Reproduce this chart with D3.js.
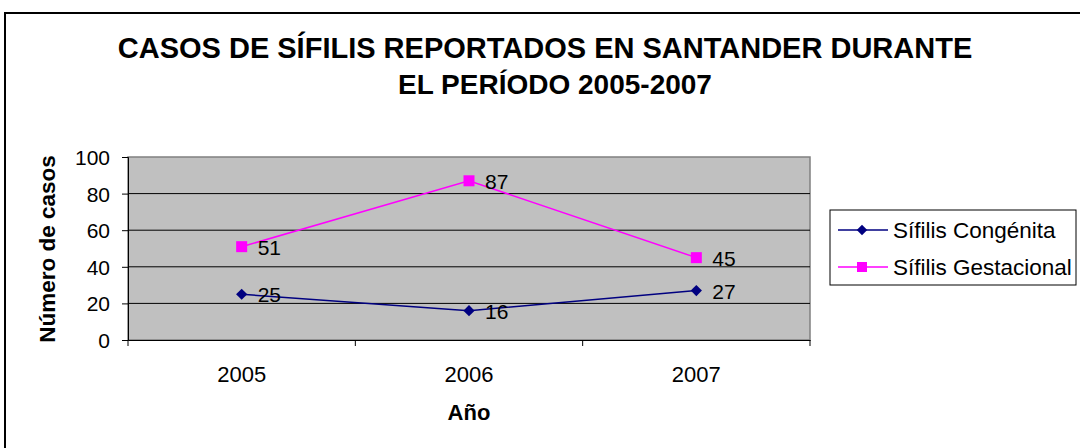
<!DOCTYPE html>
<html><head><meta charset="utf-8">
<script src="https://cdn.jsdelivr.net/npm/d3@7"></script>
<style>body{margin:0;background:#fff}svg{display:block}text{font-family:"Liberation Sans",Arial,sans-serif}</style>
</head><body><svg id="c" width="1080" height="448"></svg>
<script>
const categories = ["2005","2006","2007"];
const congenita = [25,16,27];
const gestacional = [51,87,45];
const seriesNames = ["Sífilis Congénita","Sífilis Gestacional"];
const yTicks = [0,20,40,60,80,100];

const svg = d3.select("#c");
svg.append("rect").attr("x",5).attr("y",13).attr("width",1090).attr("height",450)
  .attr("fill","#fff").attr("stroke","#000").attr("stroke-width",2);

const L=128,R=810,T=157,B=340;
const x = d3.scaleBand().domain(categories).range([L,R]);
const y = d3.scaleLinear().domain([0,100]).range([B,T]);

svg.append("rect").attr("x",L).attr("y",T).attr("width",R-L).attr("height",B-T)
  .attr("fill","#c0c0c0").attr("stroke","#808080").attr("stroke-width",1.5);

svg.append("g").selectAll("line").data(yTicks.filter(d=>d>0&&d<100)).join("line")
  .attr("x1",L).attr("x2",R).attr("y1",d=>y(d)).attr("y2",d=>y(d))
  .attr("stroke","#000").attr("stroke-width",1);

// y axis
const ya = svg.append("g").attr("transform",`translate(${L},0)`)
  .call(d3.axisLeft(y).tickValues(yTicks).tickSize(6).tickPadding(12));
ya.select(".domain").attr("stroke","#000");
ya.selectAll("text").attr("font-size",21).attr("fill","#000").attr("font-family","Liberation Sans, Arial").attr("dy","0.36em");
// x axis
const xa = svg.append("g").attr("transform",`translate(0,${B})`)
  .call(d3.axisBottom(x).tickSize(0).tickPadding(0));
xa.select(".domain").attr("stroke","#000");
xa.selectAll("text").attr("font-size",22).attr("fill","#000").attr("font-family","Liberation Sans, Arial").attr("dy",null).attr("y",42);
svg.append("g").selectAll("line").data(categories.concat(["_end"])).join("line")
  .attr("x1",(d,i)=>L+i*x.bandwidth()).attr("x2",(d,i)=>L+i*x.bandwidth())
  .attr("y1",B).attr("y2",B+6).attr("stroke","#000");

const cx = d=>x(d)+x.bandwidth()/2;
const line = d3.line().x((d,i)=>cx(categories[i])).y(d=>y(d));
const colors = ["#000080","#ff00ff"];
const data = [congenita,gestacional];
data.forEach((s,k)=>{
  svg.append("path").datum(s).attr("d",line).attr("fill","none").attr("stroke",colors[k]).attr("stroke-width",1.5);
  const g = svg.append("g");
  s.forEach((v,i)=>{
    const px=cx(categories[i]), py=y(v);
    if(k===0) g.append("path").attr("d",d3.symbol(d3.symbolDiamond2,80)()).attr("transform",`translate(${px},${py})`).attr("fill",colors[k]);
    else g.append("rect").attr("x",px-5.5).attr("y",py-5.5).attr("width",11).attr("height",11).attr("fill",colors[k]);
    g.append("text").attr("x",px+16).attr("y",py+8).attr("font-size",21).attr("fill","#000").text(v);
  });
});

// title
svg.append("text").attr("x",545).attr("y",58).attr("text-anchor","middle").attr("font-size",29).attr("font-weight","bold").text("CASOS DE SÍFILIS REPORTADOS EN SANTANDER DURANTE");
svg.append("text").attr("x",555).attr("y",94).attr("text-anchor","middle").attr("font-size",28).attr("font-weight","bold").text("EL PERÍODO 2005-2007");
svg.append("text").attr("transform","translate(55,249) rotate(-90)").attr("text-anchor","middle").attr("font-size",22.5).attr("font-weight","bold").text("Número de casos");
svg.append("text").attr("x",469).attr("y",420).attr("text-anchor","middle").attr("font-size",22).attr("font-weight","bold").text("Año");

// legend
const lg = svg.append("g");
lg.append("rect").attr("x",830).attr("y",210).attr("width",246).attr("height",75).attr("fill","#fff").attr("stroke","#000").attr("stroke-width",1);
seriesNames.forEach((n,k)=>{
  const ly = 230+k*37;
  lg.append("line").attr("x1",838).attr("x2",888).attr("y1",ly).attr("y2",ly).attr("stroke",colors[k]).attr("stroke-width",1.5);
  if(k===0) lg.append("path").attr("d",d3.symbol(d3.symbolDiamond2,70)()).attr("transform",`translate(862,${ly})`).attr("fill",colors[k]);
  else lg.append("rect").attr("x",857).attr("y",ly-5).attr("width",10).attr("height",10).attr("fill",colors[k]);
  lg.append("text").attr("x",893).attr("y",ly+8).attr("font-size",22.5).text(n);
});
</script></body></html>
